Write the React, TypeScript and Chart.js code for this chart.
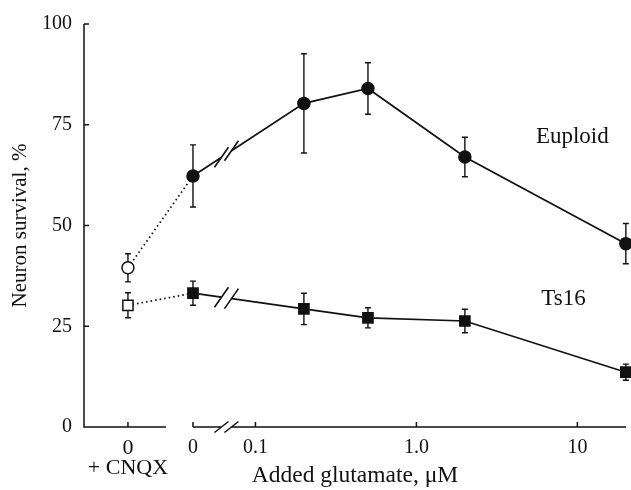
import React, { useEffect, useRef } from "react";
import { Chart, registerables } from "chart.js";

Chart.register(...registerables);

// ---- data ----
const conditions = ["0 + CNQX", "0", "0.2", "0.5", "2", "20"];
const glutamateUM = [0, 0, 0.2, 0.5, 2, 20];
const withCNQX = [true, false, false, false, false, false];
const euploidMean = [39.5, 62.3, 80.3, 84.0, 67.0, 45.5];
const euploidErr = [3.5, 7.7, 12.3, 6.4, 4.9, 5.0];
const ts16Mean = [30.2, 33.2, 29.3, 27.1, 26.3, 13.6];
const ts16Err = [3.1, 3.0, 3.9, 2.5, 2.9, 2.0];
const seriesNames = ["Euploid", "Ts16"];
const yTicks = [0, 25, 50, 75, 100];
const xTickGlutamate = [0, 0, 0.1, 1, 10];
const xTickCNQX = [true, false, false, false, false];
const xTickLabels: (string | string[])[] = [["0", "+ CNQX"], "0", "0.1", "1.0", "10"];

// ---- broken log axis layout (decades) ----
const X_MIN = -2.065;
const X_MAX = 1.302;
const CNQX_POS = -1.792;
const ZERO_POS = -1.388;
const SEG1_END = -1.556;
const BREAK_POS = -1.18;

function xPos(c: number, cnqx: boolean) {
  if (cnqx) return CNQX_POS;
  if (c === 0) return ZERO_POS;
  return Math.log10(c);
}

const FONT = "'Liberation Serif', 'Times New Roman', serif";
const INK = "#111";

const LABEL_AT = [
  { c: 9.3, v: 70.5 },
  { c: 8.2, v: 30.2 },
];

const figurePlugin = {
  id: "figure",
  beforeDatasetsDraw(chart: any) {
    const ctx = chart.ctx;
    const xs = chart.scales.x;
    const ys = chart.scales.y;
    const a = chart.chartArea;
    ctx.save();
    ctx.strokeStyle = INK;
    ctx.lineWidth = 1.5;
    ctx.lineCap = "butt";
    const y0 = ys.getPixelForValue(0);
    const bx = xs.getPixelForValue(BREAK_POS);
    ctx.beginPath();
    ctx.moveTo(a.left, ys.getPixelForValue(100));
    ctx.lineTo(a.left, y0);
    ctx.lineTo(xs.getPixelForValue(SEG1_END), y0);
    const zx = xs.getPixelForValue(ZERO_POS);
    ctx.moveTo(zx, y0);
    ctx.lineTo(bx - 5, y0);
    ctx.moveTo(bx + 5, y0);
    ctx.lineTo(a.right, y0);
    for (const s of [-5, 5]) {
      ctx.moveTo(bx + s - 7, y0 + 5.5);
      ctx.lineTo(bx + s + 7, y0 - 5.5);
    }
    yTicks.forEach((v) => {
      if (v === 0) return;
      const py = ys.getPixelForValue(v);
      ctx.moveTo(a.left, py);
      ctx.lineTo(a.left + 5, py);
    });
    xTickGlutamate.forEach((c, i) => {
      const px = xs.getPixelForValue(xPos(c, xTickCNQX[i]));
      ctx.moveTo(px, y0);
      ctx.lineTo(px, y0 - 5);
    });
    ctx.stroke();

    // error bars
    const errs = [
      [euploidMean, euploidErr],
      [ts16Mean, ts16Err],
    ];
    ctx.lineWidth = 1.4;
    errs.forEach(([m, e], d) => {
      const meta = chart.getDatasetMeta(d);
      ctx.beginPath();
      meta.data.forEach((pt: any, i: number) => {
        const t = ys.getPixelForValue(m[i] + e[i]);
        const b = ys.getPixelForValue(m[i] - e[i]);
        ctx.moveTo(pt.x, t);
        ctx.lineTo(pt.x, b);
        ctx.moveTo(pt.x - 3, t);
        ctx.lineTo(pt.x + 3, t);
        ctx.moveTo(pt.x - 3, b);
        ctx.lineTo(pt.x + 3, b);
      });
      ctx.stroke();
    });
    ctx.restore();
  },
  afterDatasetsDraw(chart: any) {
    const ctx = chart.ctx;
    const xs = chart.scales.x;
    const ys = chart.scales.y;
    const bx = xs.getPixelForValue(BREAK_POS);
    ctx.save();
    [0, 1].forEach((d) => {
      const meta = chart.getDatasetMeta(d);
      const p1 = meta.data[1];
      const p2 = meta.data[2];
      const k = (p2.y - p1.y) / (p2.x - p1.x);
      const yAt = (x: number) => p1.y + k * (x - p1.x);
      ctx.strokeStyle = "#fff";
      ctx.lineWidth = 5;
      ctx.lineCap = "butt";
      ctx.beginPath();
      ctx.moveTo(bx - 5, yAt(bx - 5));
      ctx.lineTo(bx + 5, yAt(bx + 5));
      ctx.stroke();
      ctx.strokeStyle = INK;
      ctx.lineWidth = 1.6;
      ctx.beginPath();
      for (const s of [-5, 5]) {
        const cx = bx + s;
        const cy = yAt(cx);
        ctx.moveTo(cx - 7, cy + 10);
        ctx.lineTo(cx + 7, cy - 10);
      }
      ctx.stroke();
    });
    ctx.fillStyle = INK;
    ctx.font = `23px ${FONT}`;
    ctx.textAlign = "center";
    ctx.textBaseline = "alphabetic";
    seriesNames.forEach((n, i) => {
      ctx.fillText(n, xs.getPixelForValue(Math.log10(LABEL_AT[i].c)), ys.getPixelForValue(LABEL_AT[i].v));
    });
    ctx.restore();
  },
};

function makeDataset(name: string, means: number[], style: string, radius: number) {
  return {
    label: name,
    data: glutamateUM.map((c, i) => ({ x: xPos(c, withCNQX[i]), y: means[i] })),
    showLine: true,
    borderColor: INK,
    borderWidth: 1.7,
    pointStyle: style,
    pointRadius: radius,
    pointBorderWidth: 1.5,
    pointBorderColor: INK,
    pointBackgroundColor: withCNQX.map((o) => (o ? "#fff" : INK)),
    fill: false,
    tension: 0,
    clip: false,
    segment: {
      borderDash: (c: any) => (c.p0DataIndex === 0 ? [1.6, 3] : undefined),
    },
  };
}

export default function App() {
  const ref = useRef<HTMLCanvasElement>(null);
  useEffect(() => {
    if (!ref.current) return;
    const chart = new Chart(ref.current, {
      type: "scatter",
      data: {
        labels: conditions,
        datasets: [
          makeDataset(seriesNames[0], euploidMean, "circle", 6),
          makeDataset(seriesNames[1], ts16Mean, "rect", 7.2),
        ] as any,
      },
      options: {
        animation: false,
        responsive: false,
        layout: { autoPadding: false, padding: { top: 20, right: 5, left: 0, bottom: 0 } },
        plugins: { legend: { display: false }, tooltip: { enabled: false } },
        scales: {
          x: {
            type: "linear",
            min: X_MIN,
            max: X_MAX,
            afterBuildTicks: (s: any) => {
              s.ticks = xTickGlutamate.map((c, i) => ({ value: xPos(c, xTickCNQX[i]) }));
            },
            afterFit: (s: any) => {
              s.height = 63;
            },
            grid: { display: false, drawTicks: false },
            border: { display: false },
            ticks: {
              autoSkip: false,
              maxRotation: 0,
              padding: 11,
              color: INK,
              font: (c: any) => ({ family: FONT, size: c.index === 0 ? 22 : 20, lineHeight: c.index === 0 ? 0.92 : 1.0 }),
              callback: (_v: any, i: number) => xTickLabels[i],
            },
            title: {
              display: true,
              text: "Added glutamate, μM",
              color: INK,
              font: { family: FONT, size: 23.5, lineHeight: 1.2 },
              padding: { top: 0, bottom: 0 },
            },
          },
          y: {
            min: 0,
            max: 100,
            afterBuildTicks: (s: any) => {
              s.ticks = yTicks.map((v) => ({ value: v }));
            },
            afterFit: (s: any) => {
              s.width = 84;
            },
            grid: { display: false, drawTicks: false },
            border: { display: false },
            ticks: {
              padding: 12,
              color: INK,
              font: { family: FONT, size: 20 },
            },
            title: {
              display: true,
              text: "Neuron survival, %",
              color: INK,
              font: { family: FONT, size: 21, lineHeight: 1.2 },
              padding: { top: 8, bottom: 0 },
            },
          },
        },
      } as any,
      plugins: [figurePlugin],
    });
    return () => chart.destroy();
  }, []);
  return (
    <div style={{ position: "fixed", left: 0, top: 0, width: 631, height: 490, background: "#fff" }}>
      <canvas ref={ref} width={631} height={490} style={{ display: "block" }} />
    </div>
  );
}
